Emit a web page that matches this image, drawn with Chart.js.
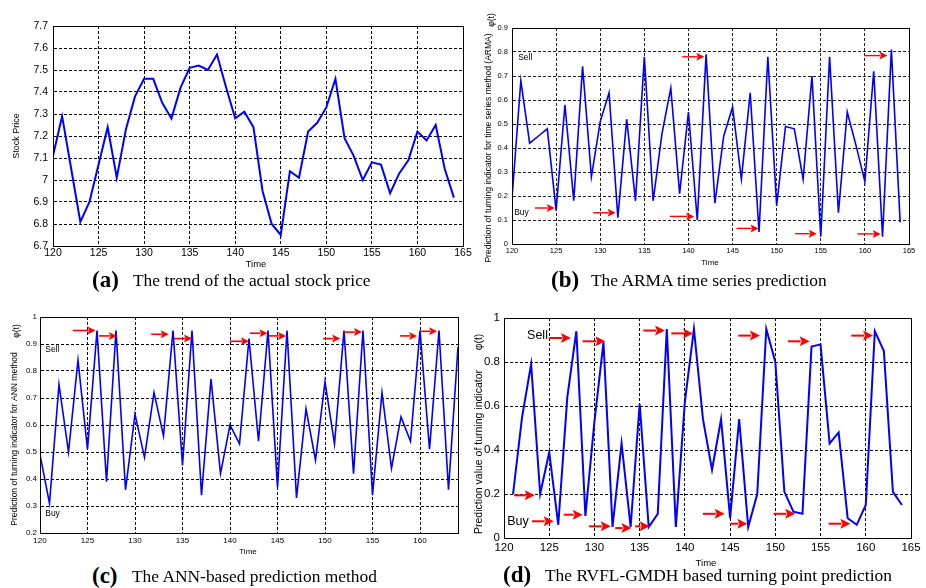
<!DOCTYPE html>
<html><head><meta charset="utf-8">
<script src="https://cdn.jsdelivr.net/npm/chart.js@4.4.1/dist/chart.umd.min.js"></script>
<style>
html,body{margin:0;padding:0;background:#fff;}
#wrap{position:relative;width:926px;height:588px;overflow:hidden;background:#fff;}
canvas{position:absolute;}
.cap{position:absolute;font-family:"Liberation Serif","DejaVu Serif",serif;color:#000;white-space:nowrap;line-height:1;z-index:5;}
.lab{font-weight:bold;font-size:23px;}
.txt{font-size:17.4px;}
</style></head><body>
<div id="wrap">
<canvas id="cA" style="left:0;top:0"></canvas>
<canvas id="cB" style="left:463px;top:0"></canvas>
<canvas id="cC" style="left:0;top:294px"></canvas>
<canvas id="cD" style="left:463px;top:294px"></canvas>
<div class="cap lab" style="left:92px;top:268px">(a)</div>
<div class="cap txt" style="left:133px;top:272px">The trend of the actual stock price</div>
<div class="cap lab" style="left:551px;top:268px">(b)</div>
<div class="cap txt" style="left:591px;top:272px">The ARMA time series prediction</div>
<div class="cap lab" style="left:92px;top:564px">(c)</div>
<div class="cap txt" style="left:132px;top:568px">The ANN-based prediction method</div>
<div class="cap lab" style="left:503px;top:563px">(d)</div>
<div class="cap txt" style="left:545px;top:567px">The RVFL-GMDH based turning point prediction</div>
</div>
<script>
// ---------- DATA ----------
const time = [120,121,122,123,124,125,126,127,128,129,130,131,132,133,134,135,136,137,138,139,140,141,142,143,144,145,146,147,148,149,150,151,152,153,154,155,156,157,158,159,160,161,162,163,164];
const timeD = time.slice(1);

const stockPrice = [7.11,7.29,7.05,6.81,6.90,7.07,7.24,7.01,7.23,7.38,
  7.46,7.46,7.35,7.28,7.42,7.51,7.52,7.50,7.57,7.42,
  7.28,7.31,7.24,6.95,6.80,6.75,7.04,7.01,7.22,7.26,
  7.33,7.46,7.19,7.11,7.00,7.08,7.07,6.94,7.03,7.09,
  7.22,7.18,7.25,7.05,6.92];

const armaPred = [0.19,0.68,0.42,0.45,0.48,0.14,0.58,0.18,0.74,0.28,
  0.51,0.63,0.11,0.52,0.18,0.78,0.18,0.46,0.65,0.21,
  0.55,0.10,0.79,0.17,0.45,0.57,0.27,0.63,0.05,0.78,
  0.16,0.49,0.48,0.27,0.70,0.03,0.78,0.13,0.55,0.41,
  0.26,0.72,0.03,0.81,0.09];

const annPred = [0.49,0.31,0.75,0.50,0.84,0.51,0.95,0.39,0.95,0.36,
  0.64,0.48,0.72,0.56,0.95,0.45,0.95,0.34,0.77,0.42,
  0.60,0.53,0.92,0.54,0.95,0.37,0.95,0.33,0.66,0.47,
  0.76,0.53,0.95,0.42,0.95,0.34,0.72,0.44,0.63,0.54,
  0.95,0.51,0.95,0.36,0.89];

const rvflPred = [0.20,0.55,0.79,0.20,0.39,0.06,0.64,0.94,0.10,0.53,
  0.89,0.05,0.43,0.05,0.61,0.05,0.11,0.95,0.05,0.62,
  0.95,0.54,0.31,0.54,0.09,0.54,0.05,0.20,0.95,0.80,
  0.21,0.12,0.11,0.87,0.88,0.43,0.48,0.09,0.06,0.15,
  0.94,0.85,0.21,0.15];

// tick values
const xTicks = [120,125,130,135,140,145,150,155,160,165];
const xTicksC = [120,125,130,135,140,145,150,155,160];
const yTicksA = [6.7,6.8,6.9,7.0,7.1,7.2,7.3,7.4,7.5,7.6,7.7];
const yTicksB = [0,0.1,0.2,0.3,0.4,0.5,0.6,0.7,0.8,0.9];
const yTicksC = [0.2,0.3,0.4,0.5,0.6,0.7,0.8,0.9,1];
const yTicksD = [0,0.2,0.4,0.6,0.8,1];

// turning-point arrows: [time from, time to, indicator value]
const arrowsB = [[122.6,124.85,0.15],[129.2,131.75,0.13],[137.9,140.65,0.115],[139.3,141.8,0.78],
  [145.45,147.95,0.065],[152.1,154.55,0.043],[159.15,161.8,0.042],[159.9,162.55,0.785]];
const arrowsC = [[123.45,125.85,0.95],[126.2,128.1,0.93],[131.7,133.55,0.936],[134.1,136.0,0.92],
  [140.0,142.0,0.91],[142.1,143.95,0.94],[144.1,145.9,0.93],[149.8,151.6,0.92],
  [152.0,153.9,0.944],[157.9,159.7,0.93],[160.0,161.8,0.947]];
const arrowsD = [[125.0,127.4,0.909],[128.7,131.2,0.894],[135.4,137.8,0.943],[138.5,140.9,0.93],
  [145.9,148.3,0.92],[151.4,153.8,0.894],[158.4,160.8,0.92],
  [121.1,123.4,0.194],[123.1,125.5,0.076],[126.6,128.7,0.106],[129.4,131.8,0.053],
  [132.3,134.1,0.045],[134.5,136.1,0.053],[142.0,144.4,0.11],[145.0,146.9,0.065],
  [149.8,152.2,0.11],[155.9,158.3,0.065]];

// ---------- DRAWING ----------
const SANS = '"Liberation Sans", Arial, sans-serif';
const fmt = v => String(Math.round(v * 10) / 10);

function makeDeco(d) {
  return {
    id: 'deco' + d.id,
    afterDraw(chart) {
      const {ctx, chartArea: a, scales: {x, y}} = chart;
      ctx.save();
      ctx.setLineDash([]);
      ctx.strokeStyle = '#000';
      ctx.lineWidth = 1;
      ctx.strokeRect(a.left + 0.5, a.top + 0.5, a.right - a.left, a.bottom - a.top);
      // arrows
      ctx.strokeStyle = '#ff0000';
      ctx.fillStyle = '#ff0000';
      (d.arrows || []).forEach(([x0, x1, yv]) => {
        const p0 = x.getPixelForValue(x0), p1 = x.getPixelForValue(x1), py = y.getPixelForValue(yv);
        ctx.lineWidth = d.aw;
        ctx.beginPath(); ctx.moveTo(p0, py); ctx.lineTo(p1 - d.ah + 1, py); ctx.stroke();
        ctx.beginPath(); ctx.moveTo(p1, py); ctx.lineTo(p1 - d.ah, py - d.ahw); ctx.lineTo(p1 - d.ah * 0.8, py); ctx.lineTo(p1 - d.ah, py + d.ahw);
        ctx.closePath(); ctx.fill();
      });
      // notes (data coordinates)
      ctx.fillStyle = '#000';
      (d.notes || []).forEach(n => {
        ctx.font = n.font; ctx.textAlign = 'left'; ctx.textBaseline = 'middle';
        ctx.fillText(n.t, x.getPixelForValue(n.x), y.getPixelForValue(n.y));
      });
      // axis titles (canvas px)
      (d.titles || []).forEach(t => {
        ctx.save();
        ctx.font = t.font; ctx.textAlign = 'center'; ctx.textBaseline = 'middle';
        ctx.translate(t.x, t.y);
        if (t.rot) ctx.rotate(-Math.PI / 2);
        ctx.fillText(t.t, 0, 0);
        ctx.restore();
      });
      ctx.restore();
    }
  };
}

function lineChart(c) {
  const cv = document.getElementById(c.id);
  cv.width = c.w; cv.height = c.h;
  return new Chart(cv, {
    type: 'line',
    data: {datasets: [{
      data: c.xs.map((xv, i) => ({x: xv, y: c.ys[i]})),
      borderColor: '#0000ff', borderWidth: c.lw, pointRadius: 0, tension: 0, fill: false
    }]},
    options: {
      responsive: false, animation: false, devicePixelRatio: 1,
      layout: {padding: {left: 0, top: c.top, right: c.right, bottom: 0}},
      plugins: {legend: {display: false}, tooltip: {enabled: false}},
      scales: {
        x: {
          type: 'linear', min: c.xmin, max: c.xmax,
          afterBuildTicks: s => { s.ticks = c.xticks.map(v => ({value: v})); },
          afterFit: s => { s.height = c.xh; },
          grid: {color: c.gc, lineWidth: 1, drawTicks: false},
          border: {display: true, color: '#000', dash: [3, 2]},
          ticks: {color: '#000', font: {family: SANS, size: c.tf}, padding: c.xpad,
                  maxRotation: 0, autoSkip: false, callback: v => fmt(v)}
        },
        y: {
          type: 'linear', min: c.ymin, max: c.ymax,
          afterBuildTicks: s => { s.ticks = c.yticks.map(v => ({value: v})); },
          afterFit: s => { s.width = c.yw; },
          grid: {color: c.gc, lineWidth: 1, drawTicks: false},
          border: {display: true, color: '#000', dash: [3, 2]},
          ticks: {color: '#000', font: {family: SANS, size: c.tf}, padding: c.ypad,
                  autoSkip: false, callback: v => fmt(v)}
        }
      }
    },
    plugins: [makeDeco(c.deco)]
  });
}

lineChart({id: 'cA', w: 480, h: 272, xs: time, ys: stockPrice, lw: 2, gc: '#000',
  top: 26, right: 17, xh: 26, yw: 53, tf: 10.5, xpad: 1, ypad: 5,
  xmin: 120, xmax: 165, ymin: 6.7, ymax: 7.7, xticks: xTicks, yticks: yTicksA,
  deco: {id: 'A', arrows: [], aw: 2, ah: 7, ahw: 3.5,
    titles: [
      {t: 'Stock Price', x: 17, y: 136, rot: true, font: '9px ' + SANS},
      {t: 'Time', x: 256, y: 264, font: '9.5px ' + SANS}
    ]}});

lineChart({id: 'cB', w: 463, h: 272, xs: time, ys: armaPred, lw: 1.6, gc: '#222',
  top: 28, right: 17, xh: 28, yw: 49, tf: 7.5, xpad: 2, ypad: 4,
  xmin: 120, xmax: 165, ymin: 0, ymax: 0.9, xticks: xTicks, yticks: yTicksB,
  deco: {id: 'B', arrows: arrowsB, aw: 1.4, ah: 8, ahw: 4,
    notes: [
      {t: 'Sell', x: 120.7, y: 0.775, font: '8.5px ' + SANS},
      {t: 'Buy', x: 120.25, y: 0.13, font: '8.5px ' + SANS}
    ],
    titles: [
      {t: 'Prediction of turning indicator for time series method (ARMA)', x: 26, y: 148, rot: true, font: '8.5px ' + SANS},
      {t: 'φ(t)', x: 29, y: 20, rot: true, font: '8.5px ' + SANS},
      {t: 'Time', x: 247, y: 263, font: '8px ' + SANS}
    ]}});

lineChart({id: 'cC', w: 470, h: 268, xs: time, ys: annPred, lw: 1.6, gc: '#000',
  top: 23, right: 12, xh: 29, yw: 40, tf: 8, xpad: 3, ypad: 3,
  xmin: 120, xmax: 164, ymin: 0.2, ymax: 1, xticks: xTicksC, yticks: yTicksC,
  deco: {id: 'C', arrows: arrowsC, aw: 1.6, ah: 8, ahw: 4,
    notes: [
      {t: 'Sell', x: 120.55, y: 0.878, font: '8.5px ' + SANS},
      {t: 'Buy', x: 120.55, y: 0.27, font: '8.5px ' + SANS}
    ],
    titles: [
      {t: 'Prediction of turning indicator for ANN method', x: 15, y: 145, rot: true, font: '8.5px ' + SANS},
      {t: 'φ(t)', x: 17, y: 37, rot: true, font: '8.5px ' + SANS},
      {t: 'Time', x: 248, y: 258, font: '8px ' + SANS}
    ]}});

lineChart({id: 'cD', w: 463, h: 280, xs: timeD, ys: rvflPred, lw: 2, gc: '#000',
  top: 24, right: 15, xh: 36, yw: 41, tf: 11.5, xpad: 3, ypad: 4,
  xmin: 120, xmax: 165, ymin: 0, ymax: 1, xticks: xTicks, yticks: yTicksD,
  deco: {id: 'D', arrows: arrowsD, aw: 2, ah: 10, ahw: 5,
    notes: [
      {t: 'Sell', x: 122.55, y: 0.918, font: '12.5px ' + SANS},
      {t: 'Buy', x: 120.35, y: 0.073, font: '12.5px ' + SANS}
    ],
    titles: [
      {t: 'Prediction value of turning indicator', x: 16, y: 158, rot: true, font: '10.5px ' + SANS},
      {t: 'φ(t)', x: 16, y: 48, rot: true, font: '10.5px ' + SANS},
      {t: 'Time', x: 243, y: 269, font: '9.5px ' + SANS}
    ]}});
</script>
</body></html>
